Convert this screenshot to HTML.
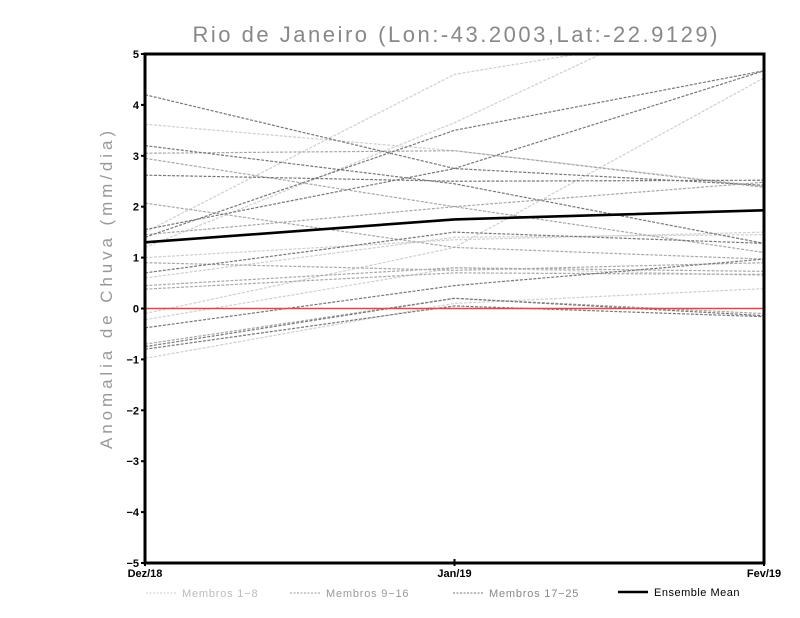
<!DOCTYPE html>
<html><head><meta charset="utf-8"><style>
body{margin:0;background:#fff}
svg{display:block}
text{font-family:"Liberation Sans",sans-serif}
</style></head><body>
<svg id="chart" width="800" height="618" viewBox="0 0 800 618">
<text x="455" y="42" text-anchor="middle" font-size="22" fill="#888" textLength="525" lengthAdjust="spacing">Rio de Janeiro (Lon:-43.2003,Lat:-22.9129)</text>
<text transform="translate(112,290) rotate(-90)" text-anchor="middle" font-size="17" fill="#999" textLength="318" lengthAdjust="spacing">Anomalia de Chuva (mm/dia)</text>
<g id="marks"></g>
<g id="axes"></g>
<g>
<line x1="146" y1="593" x2="176" y2="593" stroke="#ccc" stroke-dasharray="2,1.5"/>
<text x="182" y="597" font-size="11" fill="#bbb" letter-spacing="0.8">Membros 1−8</text>
<line x1="290" y1="593" x2="320" y2="593" stroke="#999" stroke-dasharray="2,1.5"/>
<text x="326" y="597" font-size="11" fill="#999" letter-spacing="0.8">Membros 9−16</text>
<line x1="453" y1="593" x2="483" y2="593" stroke="#777" stroke-dasharray="2,1.5"/>
<text x="489" y="597" font-size="11" fill="#888" letter-spacing="0.8">Membros 17−25</text>
<line x1="618" y1="592" x2="648" y2="592" stroke="#000" stroke-width="2.5"/>
<text x="654" y="596" font-size="11" fill="#000" letter-spacing="0.5">Ensemble Mean</text>
</g>
</svg>
<script>
const categories = ["Dez/18","Jan/19","Fev/19"];
const yTicks = [-5,-4,-3,-2,-1,0,1,2,3,4,5];
const members1to8 = [
 [3.62, 3.1, 2.4],
 [1.5, 4.6, 5.6],
 [1.2, 3.65, 6.5],
 [1.0, 1.35, 1.5],
 [-0.1, 1.2, 4.53],
 [-0.22, 0.8, 0.65],
 [-0.98, 0.1, 0.39],
 [0.6, 1.4, 1.45]
];
const members9to16 = [
 [3.05, 3.1, 2.38],
 [2.95, 2.0, 1.1],
 [1.45, 2.0, 2.48],
 [0.9, 0.75, 0.9],
 [0.45, 0.8, 0.73],
 [-0.7, 0.2, -0.1],
 [2.07, 1.2, 0.97],
 [0.38, 0.7, 0.67]
];
const members17to25 = [
 [4.2, 2.75, 2.42],
 [3.2, 2.45, 1.28],
 [2.62, 2.5, 2.52],
 [1.55, 2.75, 4.67],
 [1.4, 3.5, 4.67],
 [0.7, 1.5, 1.28],
 [-0.38, 0.45, 0.97],
 [-0.75, 0.2, -0.14],
 [-0.8, 0.05, -0.16]
];
const ensembleMean = [1.3, 1.75, 1.93];

const NS="http://www.w3.org/2000/svg";
const X0=145, X1=764, Y5=54, Ym5=563;
function xScale(i){return X0+(X1-X0)*i/(categories.length-1);}
function yScale(v){return Ym5-(v+5)*(Ym5-Y5)/10;}
const marks=document.getElementById('marks');
const axes=document.getElementById('axes');
const clip=document.createElementNS(NS,'clipPath');clip.id='pc';
const cr=document.createElementNS(NS,'rect');
cr.setAttribute('x',X0);cr.setAttribute('y',Y5);cr.setAttribute('width',X1-X0);cr.setAttribute('height',Ym5-Y5);
clip.appendChild(cr);document.getElementById('chart').appendChild(clip);
marks.setAttribute('clip-path','url(#pc)');
function poly(vals,color,w,dash){
 const p=document.createElementNS(NS,'polyline');
 p.setAttribute('points',vals.map((v,i)=>xScale(i)+','+yScale(v)).join(' '));
 p.setAttribute('fill','none');p.setAttribute('stroke',color);p.setAttribute('stroke-width',w);
 if(dash)p.setAttribute('stroke-dasharray',dash);
 marks.appendChild(p);return p;
}
members1to8.forEach((m,k)=>{const p=poly(m,'#cfcfcf',1.2,'3,1.5');

});
members9to16.forEach((m,k)=>{const p=poly(m,'#a8a8a8',1.2,'3,1.5');

});
members17to25.forEach((m,k)=>{const p=poly(m,'#777',1.2,'3,1.5');

});
const zl=document.createElementNS(NS,'line');
zl.setAttribute('x1',X0);zl.setAttribute('x2',X1);zl.setAttribute('y1',yScale(0));zl.setAttribute('y2',yScale(0));
zl.setAttribute('stroke','#f04040');zl.setAttribute('stroke-width',1.6);


marks.appendChild(zl);
const mean=poly(ensembleMean,'#000',2.6,null);


const frame=document.createElementNS(NS,'rect');
frame.setAttribute('x',X0);frame.setAttribute('y',Y5);frame.setAttribute('width',X1-X0);frame.setAttribute('height',Ym5-Y5);
frame.setAttribute('fill','none');frame.setAttribute('stroke','#000');frame.setAttribute('stroke-width',3);


axes.appendChild(frame);
yTicks.forEach(v=>{
 const t=document.createElementNS(NS,'line');
 t.setAttribute('x1',X0-4);t.setAttribute('x2',X0);t.setAttribute('y1',yScale(v));t.setAttribute('y2',yScale(v));
 t.setAttribute('stroke','#000');t.setAttribute('stroke-width',2);axes.appendChild(t);
 const tx=document.createElementNS(NS,'text');
 tx.setAttribute('x',X0-6);tx.setAttribute('y',yScale(v)+4);tx.setAttribute('text-anchor','end');
 tx.setAttribute('font-size','11');tx.setAttribute('font-weight','bold');
 tx.textContent=(v<0?'−':'')+Math.abs(v);
 
 
 axes.appendChild(tx);
});
categories.forEach((c,i)=>{
 const t=document.createElementNS(NS,'line');
 t.setAttribute('x1',xScale(i));t.setAttribute('x2',xScale(i));t.setAttribute('y1',Ym5-4);t.setAttribute('y2',Ym5+3);
 t.setAttribute('stroke','#000');t.setAttribute('stroke-width',2);axes.appendChild(t);
 const tx=document.createElementNS(NS,'text');
 tx.setAttribute('x',xScale(i));tx.setAttribute('y',Ym5+14);tx.setAttribute('text-anchor','middle');
 tx.setAttribute('font-size','11');tx.setAttribute('font-weight','bold');
 tx.textContent=c;
 
 
 axes.appendChild(tx);
});
</script>
</body></html>
